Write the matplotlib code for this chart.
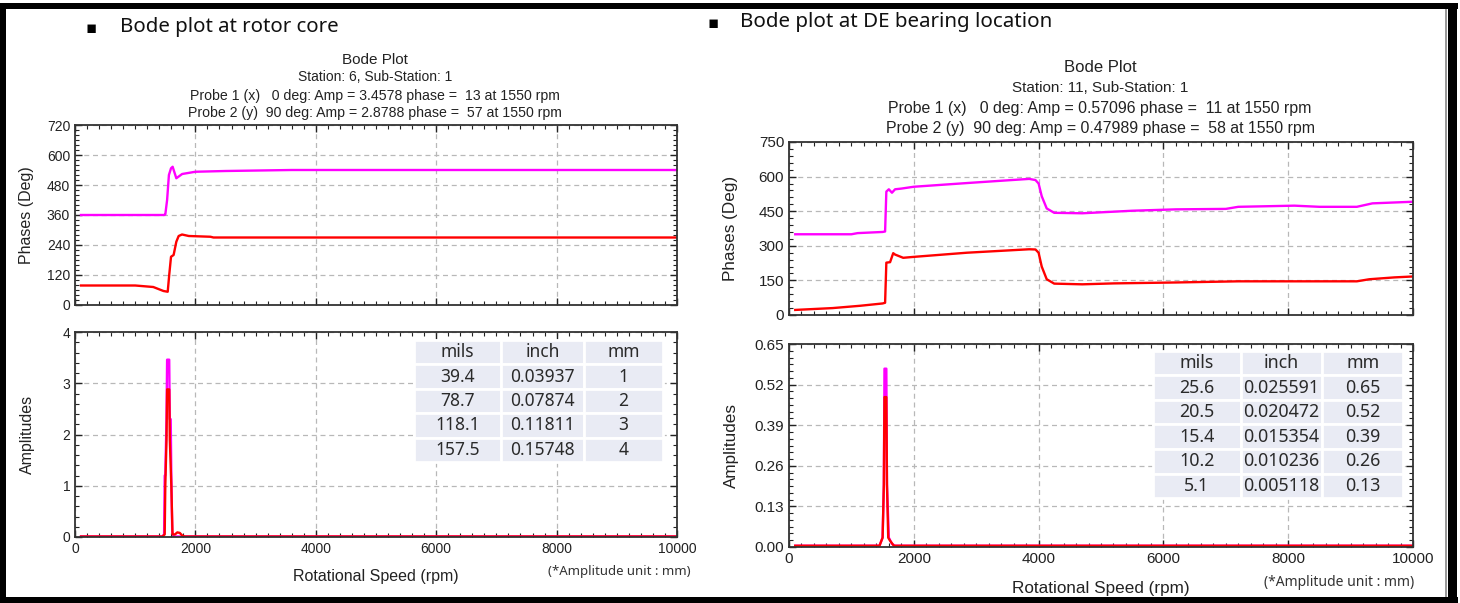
import numpy as np
import matplotlib
matplotlib.use("Agg")
import matplotlib.pyplot as plt
from matplotlib.patches import Rectangle
from matplotlib.ticker import MultipleLocator, AutoMinorLocator, FormatStrFormatter
from matplotlib.transforms import blended_transform_factory

plt.rcParams['font.family'] = ['Liberation Sans', 'DejaVu Sans']

W, H = 1460, 603

# ---- data ----
# left: rotor core
rc_rpm_mag = [100, 1480, 1500, 1530, 1560, 1595, 1622, 1683, 1780, 2000, 2500, 3600, 10000]
rc_ph_mag = [360, 360, 362, 420, 520, 547, 553, 507, 524, 533, 536, 540, 540]
rc_rpm_red = [100, 1000, 1100, 1300, 1470, 1540, 1565, 1595, 1638, 1683, 1722, 1778, 1890, 2250, 2300, 10000]
rc_ph_red = [78, 78, 76, 72, 56, 53, 120, 193, 200, 253, 276, 282, 276, 273, 270, 270]

rc_amp_rpm_mag = [100, 1450, 1480, 1490, 1500, 1520, 1530, 1565, 1575, 1590, 1600, 1615, 1640, 10000]
rc_amp_mag = [0.01, 0.01, 0.05, 1.2, 1.2, 2.3, 3.46, 3.46, 2.3, 2.3, 1.2, 0.1, 0.01, 0.01]
rc_amp_rpm_red = [100, 1450, 1490, 1500, 1520, 1530, 1565, 1575, 1600, 1620, 1660, 1700, 1740, 1780, 1820, 10000]
rc_amp_red = [0.01, 0.01, 0.05, 1.0, 1.9, 2.88, 2.88, 1.9, 1.0, 0.05, 0.05, 0.09, 0.08, 0.03, 0.01, 0.01]

rc_title = ["Bode Plot", "Station: 6, Sub-Station: 1",
            "Probe 1 (x)   0 deg: Amp = 3.4578 phase =  13 at 1550 rpm",
            "Probe 2 (y)  90 deg: Amp = 2.8788 phase =  57 at 1550 rpm"]
rc_table = [["mils", "inch", "mm"],
            ["39.4", "0.03937", "1"],
            ["78.7", "0.07874", "2"],
            ["118.1", "0.11811", "3"],
            ["157.5", "0.15748", "4"]]

# right: DE bearing
de_rpm_mag = [100, 1000, 1100, 1500, 1540, 1560, 1600, 1650, 1700, 1800, 2000, 2850, 3400, 3850, 3950,
              4000, 4050, 4130, 4250, 4700, 5500, 6200, 7000, 7200, 8100, 8500, 9100, 9350, 10000]
de_ph_mag = [350, 350, 355, 360, 362, 535, 545, 530, 545, 548, 556, 572, 582, 590, 585,
             570, 515, 462, 443, 441, 452, 458, 460, 469, 474, 469, 469, 484, 491]
de_rpm_red = [100, 700, 1140, 1500, 1540, 1560, 1620, 1670, 1700, 1830, 2000, 2850, 3850, 3950,
              4000, 4050, 4130, 4250, 4700, 5200, 6200, 7200, 9100, 9300, 9700, 10000]
de_ph_red = [22, 30, 40, 50, 53, 227, 229, 268, 262, 248, 252, 270, 285, 284,
             270, 210, 155, 136, 133, 137, 141, 146, 146, 155, 163, 167]

de_amp_rpm_mag = [100, 1450, 1500, 1520, 1530, 1560, 1570, 1600, 1650, 1700, 10000]
de_amp_mag = [0.004, 0.004, 0.03, 0.2, 0.571, 0.571, 0.2, 0.03, 0.01, 0.004, 0.004]
de_amp_rpm_red = [100, 1450, 1500, 1520, 1530, 1560, 1570, 1590, 1620, 1680, 10000]
de_amp_red = [0.004, 0.004, 0.03, 0.2, 0.48, 0.48, 0.2, 0.03, 0.02, 0.004, 0.004]

de_title = ["Bode Plot", "Station: 11, Sub-Station: 1",
            "Probe 1 (x)   0 deg: Amp = 0.57096 phase =  11 at 1550 rpm",
            "Probe 2 (y)  90 deg: Amp = 0.47989 phase =  58 at 1550 rpm"]
de_table = [["mils", "inch", "mm"],
            ["25.6", "0.025591", "0.65"],
            ["20.5", "0.020472", "0.52"],
            ["15.4", "0.015354", "0.39"],
            ["10.2", "0.010236", "0.26"],
            ["5.1", "0.005118", "0.13"]]

MAG = "#ff00ff"
RED = "#ff0000"


def fx(x):
    return x / W


def fy(y):
    return 1 - y / H


def add_ax(fig, x0, x1, y0, y1):
    return fig.add_axes([fx(x0), fy(y1), fx(x1 - x0), (y1 - y0) / H])


def style_ax(ax, fs, ymajor, yminor_n):
    ax.set_xlim(0, 10000)
    ax.xaxis.set_major_locator(MultipleLocator(2000))
    ax.xaxis.set_minor_locator(MultipleLocator(200))
    ax.yaxis.set_major_locator(MultipleLocator(ymajor))
    ax.yaxis.set_minor_locator(AutoMinorLocator(yminor_n))
    ax.tick_params(which='both', direction='in', top=True, right=True, labelsize=fs, colors='#222222')
    ax.tick_params(which='major', length=5, width=1)
    ax.tick_params(which='minor', length=3, width=0.8)
    ax.grid(True, which='major', linestyle=(0, (4, 3)), color='#b8b8b8', linewidth=0.9)
    for s in ax.spines.values():
        s.set_color('#333333')
        s.set_linewidth(1.3)


def add_table(ax, rows, bbox, fs, colw):
    tb = ax.table(cellText=rows, cellLoc='center', bbox=bbox, colWidths=colw)
    tb.auto_set_font_size(False)
    for (r, c), cell in tb.get_celld().items():
        cell.set_facecolor('#e9ebf4')
        cell.set_edgecolor('white')
        cell.set_linewidth(2)
        cell.get_text().set_fontsize(fs)
        cell.get_text().set_fontfamily(['Noto Sans', 'DejaVu Sans'])
        cell.get_text().set_color('#2a2a2a')
    tb.set_zorder(5)


fig = plt.figure(figsize=(W / 100, H / 100), dpi=100)

# black frame
for (x0, y0, w, h) in [(0, 3, 1458, 6), (0, 3, 6, 600), (1448, 3, 9, 600), (0, 597, 1458, 6)]:
    fig.patches.append(Rectangle((fx(x0), fy(y0 + h)), w / W, h / H, transform=fig.transFigure,
                                 facecolor='black', edgecolor='none', zorder=10))
fig.patches.append(Rectangle((fx(1445), fy(597)), 1.5 / W, 588 / H, transform=fig.transFigure,
                             facecolor='#999999', edgecolor='none'))

# headings
fig.text(fx(91), fy(28), "\u25aa", fontsize=12, family='DejaVu Sans', ha='center', va='center')
fig.text(fx(120), fy(27), "Bode plot at rotor core", fontsize=14.7,
         family=['Noto Sans', 'DejaVu Sans'], ha='left', va='center', color='#111111')
fig.text(fx(713), fy(23), "\u25aa", fontsize=12, family='DejaVu Sans', ha='center', va='center')
fig.text(fx(740), fy(22), "Bode plot at DE bearing location", fontsize=14.8,
         family=['Noto Sans', 'DejaVu Sans'], ha='left', va='center', color='#111111')

panels = [
    dict(x0=75, x1=677, ph=(125, 305), am=(332, 537), title=rc_title, tcx=375, ty=[60, 77, 96, 113],
         tfs=[11, 10, 10.2, 10.2], fs=10, lfs=11.5, ylab_x=27, ph_lim=(0, 720), ph_major=120, ph_minor=6,
         am_lim=(0, 4), am_major=1, am_minor=5, am_fmt=None,
         mag=(rc_rpm_mag, rc_ph_mag), red=(rc_rpm_red, rc_ph_red),
         amag=(rc_amp_rpm_mag, rc_amp_mag), ared=(rc_amp_rpm_red, rc_amp_red),
         table=rc_table, bbox=[0.563, 0.366, 0.414, 0.595], colw=[86, 81, 78], tabfs=12.5,
         xlab_y=576, note=(619, 571), nfs=9.5),
    dict(x0=789, x1=1413, ph=(142, 315), am=(344, 547), title=de_title, tcx=1100, ty=[68, 88, 108, 128],
         tfs=[12, 11, 11.4, 11.4], fs=11, lfs=12.3, ylab_x=731, ph_lim=(0, 750), ph_major=150, ph_minor=5,
         am_lim=(0, 0.65), am_major=0.13, am_minor=6, am_fmt='%.2f',
         mag=(de_rpm_mag, de_ph_mag), red=(de_rpm_red, de_ph_red),
         amag=(de_amp_rpm_mag, de_amp_mag), ared=(de_amp_rpm_red, de_amp_red),
         table=de_table, bbox=[0.583, 0.241, 0.401, 0.725], colw=[87, 81, 80], tabfs=12.8,
         xlab_y=588, note=(1339, 583), nfs=10),
]

for p in panels:
    for t, y, s in zip(p['title'], p['ty'], p['tfs']):
        fig.text(fx(p['tcx']), fy(y), t, fontsize=s, ha='center', va='center', color='#222222')

    axp = add_ax(fig, p['x0'], p['x1'], *p['ph'])
    axp.plot(*p['mag'], color=MAG, lw=1.7)
    axp.plot(*p['red'], color=RED, lw=1.7)
    axp.set_ylim(*p['ph_lim'])
    style_ax(axp, p['fs'], p['ph_major'], p['ph_minor'])
    axp.tick_params(labelbottom=False)
    axp.set_ylabel("Phases (Deg)", fontsize=p['lfs'], color='#222222')

    axa = add_ax(fig, p['x0'], p['x1'], *p['am'])
    axa.plot(*p['amag'], color=MAG, lw=1.7)
    axa.plot(*p['ared'], color=RED, lw=1.7)
    axa.set_ylim(*p['am_lim'])
    style_ax(axa, p['fs'], p['am_major'], p['am_minor'])
    if p['am_fmt']:
        axa.yaxis.set_major_formatter(FormatStrFormatter(p['am_fmt']))
    axa.set_ylabel("Amplitudes", fontsize=p['lfs'], color='#222222')
    add_table(axa, p['table'], p['bbox'], p['tabfs'], p['colw'])

    for a in (axp, axa):
        a.yaxis.set_label_coords(fx(p['ylab_x']), 0.5,
                                 transform=blended_transform_factory(fig.transFigure, a.transAxes))
        a.yaxis.label.set_va('center')

    fig.text(fx((p['x0'] + p['x1']) / 2), fy(p['xlab_y']), "Rotational Speed (rpm)", fontsize=p['lfs'],
             ha='center', va='center', color='#222222')
    fig.text(fx(p['note'][0]), fy(p['note'][1]), "(*Amplitude unit : mm)", fontsize=p['nfs'],
             family=['Noto Sans', 'DejaVu Sans'], ha='center', va='center', color='#333333')

fig.savefig("out.png", dpi=100)
